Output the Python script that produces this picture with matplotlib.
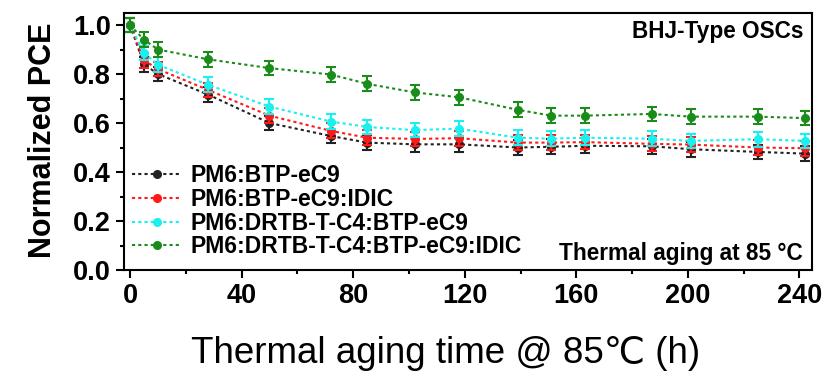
import matplotlib
matplotlib.use("Agg")
import matplotlib.pyplot as plt
from matplotlib.ticker import MultipleLocator

plt.rcParams['font.family'] = ['Liberation Sans', 'DejaVu Sans']

# aging time (h)
time_h = [0, 5, 10, 28, 50, 72, 85, 102, 118, 139, 151, 163, 187, 201, 225, 242]

pce_eC9 = [1.0, 0.84, 0.80, 0.716, 0.60, 0.547, 0.52, 0.513, 0.513,
           0.50, 0.503, 0.507, 0.505, 0.493, 0.482, 0.475]
pce_eC9_idic = [1.0, 0.856, 0.82, 0.735, 0.63, 0.568, 0.54, 0.535, 0.538,
                0.52, 0.52, 0.522, 0.515, 0.512, 0.50, 0.497]
pce_drtb = [1.0, 0.886, 0.838, 0.756, 0.667, 0.606, 0.584, 0.571, 0.577,
            0.54, 0.536, 0.54, 0.536, 0.527, 0.534, 0.527]
pce_drtb_idic = [1.0, 0.94, 0.90, 0.86, 0.824, 0.798, 0.76, 0.725, 0.705,
                 0.654, 0.63, 0.63, 0.637, 0.626, 0.626, 0.62]
err = 0.03

labels = ['PM6:BTP-eC9', 'PM6:BTP-eC9:IDIC',
          'PM6:DRTB-T-C4:BTP-eC9', 'PM6:DRTB-T-C4:BTP-eC9:IDIC']
colors = ['#222222', '#ff1a1a', '#19f0f0', '#1a8c1a']
series = [pce_eC9, pce_eC9_idic, pce_drtb, pce_drtb_idic]

fig = plt.figure(figsize=(8.3, 3.77), dpi=100)
ax = fig.add_axes([0.1494, 0.2838, 0.8289, 0.6817])

for y, c, lab in zip(series, colors, labels):
    ax.errorbar(time_h, y, yerr=err, fmt='none', ecolor=c, elinewidth=1.5,
                capsize=3.5, capthick=1.5)
    ax.plot(time_h, y, linestyle=(0, (1.5, 1.5)), color=c, lw=1.5,
            marker='o', markersize=5.5, label=lab)

ax.set_xlim(-2.15, 244.5)
ax.set_ylim(0, 1.049)
ax.xaxis.set_major_locator(MultipleLocator(40))
ax.xaxis.set_minor_locator(MultipleLocator(20))
ax.yaxis.set_major_locator(MultipleLocator(0.2))
ax.yaxis.set_minor_locator(MultipleLocator(0.1))
ax.tick_params(which='major', length=5.5, width=1.5, labelsize=19.5, pad=4)
ax.tick_params(which='minor', length=3, width=1.5)
for lbl in ax.get_xticklabels() + ax.get_yticklabels():
    lbl.set_fontweight('bold')
ax.yaxis.set_major_formatter(plt.FuncFormatter(lambda v, p: f'{v:.1f}'))
for s in ax.spines.values():
    s.set_linewidth(1.5)

ax.set_ylabel('Normalized PCE', fontsize=22, fontweight='bold')
ax.yaxis.set_label_coords(-0.096, 0.506)
ax.set_xlabel('Thermal aging time @ 85\u2103 (h)', fontsize=26.5, va='baseline')
ax.xaxis.set_label_coords(0.468, -0.362)

ax.text(0.987, 0.9027, 'BHJ-Type OSCs', transform=ax.transAxes, ha='right',
        va='baseline', fontsize=16.3, fontweight='bold')
ax.text(0.987, 0.0389, 'Thermal aging at 85 \u00b0C', transform=ax.transAxes,
        ha='right', va='baseline', fontsize=16.3, fontweight='bold')

ax.legend(loc='lower left', bbox_to_anchor=(0.0116, 0.045), frameon=False,
          handlelength=2.2, handletextpad=0.35, labelspacing=0.04,
          borderpad=0, borderaxespad=0,
          prop={'weight': 'bold', 'size': 16.5})

fig.savefig('out.png', dpi=100)
